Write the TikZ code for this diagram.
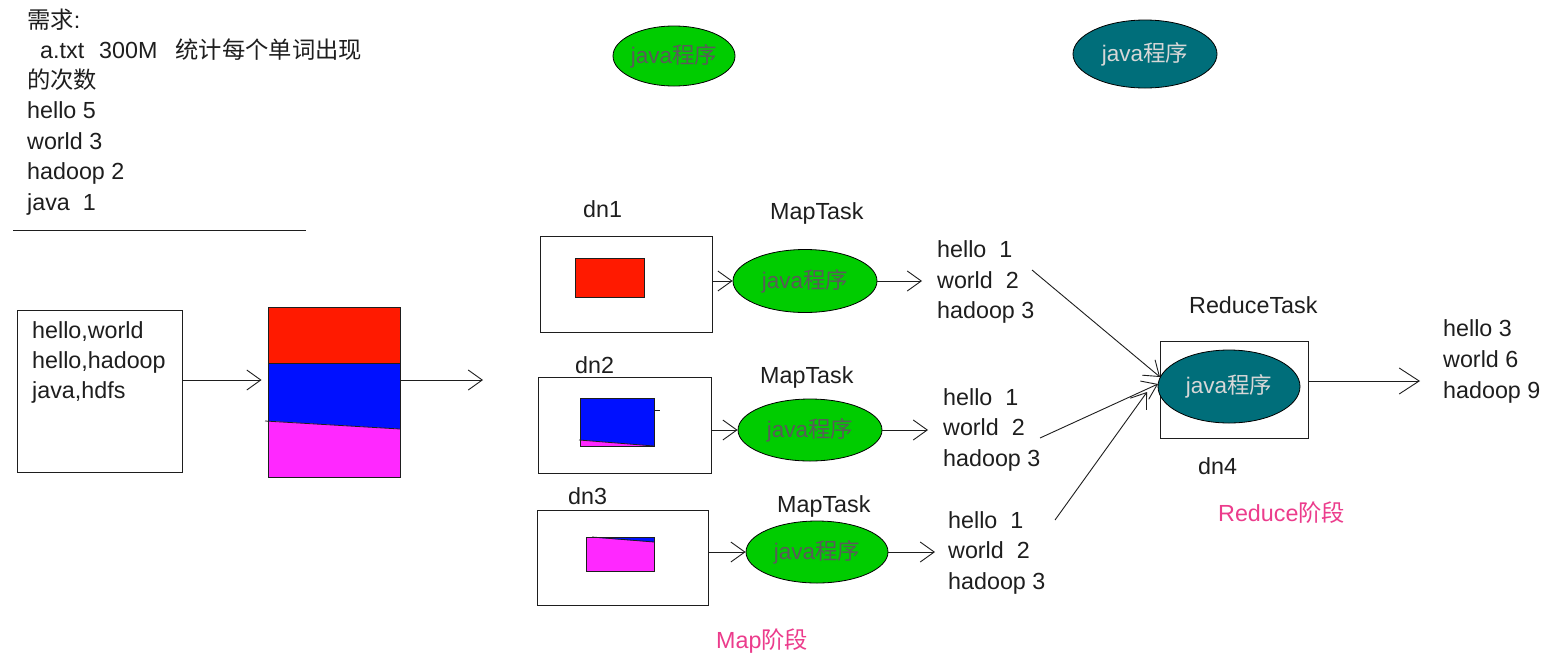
\documentclass[tikz,border=0pt]{standalone}
\usepackage{fontspec}
\setmainfont{Liberation Sans}
\newfontfamily\cjk{Noto Sans CJK SC}
\usetikzlibrary{shapes.geometric,arrows.meta}
\definecolor{ink}{RGB}{30,30,30}
\definecolor{mapgreen}{RGB}{0,204,0}
\definecolor{redteal}{RGB}{0,110,122}
\definecolor{blockred}{RGB}{255,26,0}
\definecolor{blockblue}{RGB}{0,16,255}
\definecolor{blockmag}{RGB}{255,40,255}
\definecolor{phase}{RGB}{236,60,140}
\definecolor{elltxtA}{RGB}{90,90,90}
\definecolor{elltxtB}{RGB}{215,215,215}
\begin{document}
\begin{tikzpicture}[x=1pt,y=-1pt,
  txt/.style={anchor=base west, inner sep=0pt, font=\fontsize{23.3}{26}\selectfont, text=ink},
  ell/.style={ellipse, draw=black, line width=0.8pt, inner sep=0pt, font=\fontsize{22.5}{24}\selectfont},
  mapell/.style={ell, fill=mapgreen, text=elltxtA},
  redell/.style={ell, fill=redteal, text=elltxtB},
  frame/.style={draw=ink, line width=0.9pt, inner sep=0pt},
  arr/.style={draw=ink, line width=0.9pt, -{Straight Barb[length=14pt,width=20pt,line width=0.9pt]}},
  bigarr/.style={draw=ink, line width=0.9pt, -{Straight Barb[length=20pt,width=26pt,line width=0.9pt]}}
]
\useasboundingbox (0,0) rectangle (1555,662);
\fill[white] (0,0) rectangle (1555,662);

% requirement text
\node[txt] (q1) at (27,28) {{\cjk 需求}:};
\node[txt] (q2) at (40,58) {a.txt\hspace{15pt}300M\hspace{18pt}{\cjk 统计每个单词出现}};
\node[txt] (q3) at (27,88) {{\cjk 的次数}};
\node[txt] (q4) at (27,118) {hello 5};
\node[txt] (q5) at (27,149) {world 3};
\node[txt] (q6) at (27,179) {hadoop 2};
\node[txt] (q7) at (27,210) {java~~1};
\draw[ink, line width=0.9pt] (13,230) -- (306,230);

% top ellipses
\node[mapell, minimum width=115pt, minimum height=60pt] (g0) at (674,56) {java{\cjk 程序}};
\node[redell, minimum width=144pt, minimum height=68pt] (t0) at (1145,54) {java{\cjk 程序}};

% input file
\node[frame, minimum width=165pt, minimum height=162pt] (inbox) at (99.5,391) {};
\node[txt] (i1) at (32,338) {hello,world};
\node[txt] (i2) at (32,368) {hello,hadoop};
\node[txt] (i3) at (32,398) {java,hdfs};

% split block
\fill[blockred] (268,307) rectangle (400,363);
\fill[blockblue] (268,363) -- (400,363) -- (400,429) -- (268,421) -- cycle;
\fill[blockmag] (268,421) -- (400,429) -- (400,477) -- (268,477) -- cycle;
\draw[ink, line width=0.8pt] (268,363) -- (400,363);
\draw[ink, line width=0.8pt] (265,421) -- (400,429);
\node[frame, minimum width=132pt, minimum height=170pt] (stack) at (334,392) {};
\coordinate (splitEnd) at (483,380);

\draw[arr, shorten >=6pt] ([yshift=11pt]inbox.east) -- ([yshift=11pt]inbox.east -| stack.west);
\draw[arr] (stack.east |- splitEnd) -- (splitEnd);

% dn1
\node[txt] (l1) at (583,217) {dn1};
\node[frame, minimum width=172pt, minimum height=96pt] (dn1) at (626,284) {};
\fill[blockred] (575,258) rectangle (644,297);
\draw[ink, line width=0.8pt] (575,258) rectangle (644,297);
\node[txt] (mt1) at (770,219) {MapTask};
\node[mapell, minimum width=144pt, minimum height=63pt] (m1) at (805,281) {java{\cjk 程序}};
\node[txt] (b1a) at (937,257) {hello~~1};
\node[txt] (b1b) at (937,288) {world~~2};
\node[txt] (b1c) at (937,318) {hadoop 3};

% dn2
\node[txt] (l2) at (575,373) {dn2};
\node[frame, minimum width=173pt, minimum height=96pt] (dn2) at (624.5,425) {};
\fill[blockblue] (580,398) rectangle (654,446);
\fill[blockmag] (580,440) -- (654,446) -- (580,446) -- cycle;
\draw[ink, line width=0.8pt] (580,398) rectangle (654,446);
\draw[ink, line width=0.8pt] (579,440) -- (654,446);
\draw[ink, line width=0.8pt] (654,410) -- (660,410);
\node[txt] (mt2) at (760,383) {MapTask};
\node[mapell, minimum width=144pt, minimum height=62pt] (m2) at (810,430) {java{\cjk 程序}};
\node[txt] (b2a) at (943,405) {hello~~1};
\node[txt] (b2b) at (943,435) {world~~2};
\node[txt] (b2c) at (943,466) {hadoop 3};

% dn3
\node[txt] (l3) at (568,504) {dn3};
\node[frame, minimum width=171pt, minimum height=95pt] (dn3) at (622.5,557.5) {};
\fill[blockmag] (586,537) rectangle (654,571);
\fill[blockblue] (586,537) -- (654,537) -- (654,542) -- cycle;
\draw[ink, line width=0.8pt] (586,537) rectangle (654,571);
\draw[ink, line width=0.8pt] (592,537) -- (654,542);
\node[txt] (mt3) at (777,512) {MapTask};
\node[mapell, minimum width=142pt, minimum height=62pt] (m3) at (817,552) {java{\cjk 程序}};
\node[txt] (b3a) at (948,528) {hello~~1};
\node[txt] (b3b) at (948,558) {world~~2};
\node[txt] (b3c) at (948,589) {hadoop 3};

% map arrows
\draw[arr] (dn1.east |- m1.west) -- (m1.west);
\draw[arr] (dn2.east |- m2.west) -- (m2.west);
\draw[arr] (dn3.east |- m3.west) -- (m3.west);
\draw[arr, shorten >=15pt] (m1.east) -- (m1.east -| b1b.west);
\draw[arr, shorten >=15pt] (m2.east) -- (m2.east -| b2b.west);
\draw[arr, shorten >=13pt] (m3.east) -- (m3.east -| b3b.west);

% reduce
\node[txt] (rt) at (1189,313) {ReduceTask};
\node[frame, minimum width=148pt, minimum height=97pt] (dn4) at (1234,389.5) {};
\node[redell, minimum width=142pt, minimum height=73pt] (r) at (1229,386.5) {java{\cjk 程序}};
\node[txt] (l4) at (1198,474) {dn4};

\coordinate (s1) at (1032,270);
\coordinate (s2) at (1040,438);
\coordinate (s3) at (1055,520);
\coordinate (e1) at (1160,377);
\coordinate (e2) at (1158,384);
\coordinate (e3) at (1147,392);
\draw[arr] (s1) -- (e1);
\draw[arr] (s2) -- (e2);
\draw[arr] (s3) -- (e3);

\coordinate (outEnd) at (1420,381);
\draw[bigarr] (dn4.east |- outEnd) -- (outEnd);
\node[txt] (o1) at (1443,336) {hello 3};
\node[txt] (o2) at (1443,367) {world 6};
\node[txt] (o3) at (1443,398) {hadoop 9};

% phases
\node[txt, text=phase] (ph2) at (1218,521) {Reduce{\cjk 阶段}};
\node[txt, text=phase] (ph1) at (716,648) {Map{\cjk 阶段}};
\end{tikzpicture}
\end{document}
